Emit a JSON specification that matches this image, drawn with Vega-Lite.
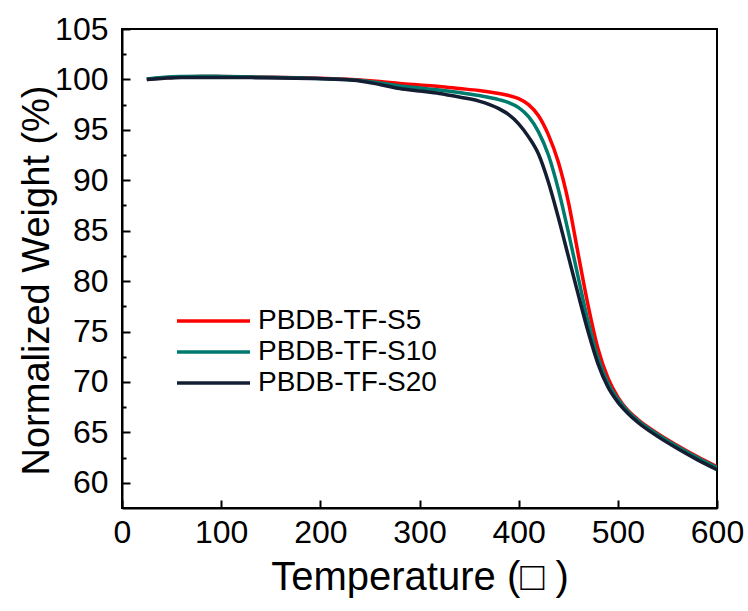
{
  "$schema": "https://vega.github.io/schema/vega-lite/v6.json",
  "autosize": {"type": "none"},
  "padding": {"left": 122, "top": 29, "right": 31, "bottom": 103},
  "width": 595,
  "height": 479,
  "background": "white",
  "config": {
    "view": {"stroke": "black", "strokeWidth": 2},
    "font": "Liberation Sans"
  },
  "data": {"values": [
    {"s":"PBDB-TF-S5","t":25,"w":100.0},{"s":"PBDB-TF-S5","t":40,"w":100.15},{"s":"PBDB-TF-S5","t":60,"w":100.25},{"s":"PBDB-TF-S5","t":80,"w":100.3},{"s":"PBDB-TF-S5","t":100,"w":100.28},{"s":"PBDB-TF-S5","t":130,"w":100.25},{"s":"PBDB-TF-S5","t":160,"w":100.2},{"s":"PBDB-TF-S5","t":190,"w":100.15},{"s":"PBDB-TF-S5","t":220,"w":100.05},{"s":"PBDB-TF-S5","t":240,"w":99.95},
    {"s":"PBDB-TF-S5","t":260,"w":99.8},{"s":"PBDB-TF-S5","t":280,"w":99.6},{"s":"PBDB-TF-S5","t":300,"w":99.45},{"s":"PBDB-TF-S5","t":320,"w":99.3},{"s":"PBDB-TF-S5","t":340,"w":99.1},{"s":"PBDB-TF-S5","t":360,"w":98.9},{"s":"PBDB-TF-S5","t":380,"w":98.6},{"s":"PBDB-TF-S5","t":390,"w":98.4},{"s":"PBDB-TF-S5","t":400,"w":98.1},{"s":"PBDB-TF-S5","t":410,"w":97.5},{"s":"PBDB-TF-S5","t":420,"w":96.4},{"s":"PBDB-TF-S5","t":430,"w":94.5},{"s":"PBDB-TF-S5","t":440,"w":91.8},{"s":"PBDB-TF-S5","t":450,"w":87.9},{"s":"PBDB-TF-S5","t":460,"w":82.7},{"s":"PBDB-TF-S5","t":470,"w":77.6},{"s":"PBDB-TF-S5","t":480,"w":73.3},{"s":"PBDB-TF-S5","t":490,"w":70.4},{"s":"PBDB-TF-S5","t":500,"w":68.5},{"s":"PBDB-TF-S5","t":510,"w":67.2},{"s":"PBDB-TF-S5","t":520,"w":66.3},{"s":"PBDB-TF-S5","t":540,"w":64.9},{"s":"PBDB-TF-S5","t":560,"w":63.7},{"s":"PBDB-TF-S5","t":580,"w":62.6},{"s":"PBDB-TF-S5","t":600,"w":61.6},
    {"s":"PBDB-TF-S10","t":25,"w":100.05},{"s":"PBDB-TF-S10","t":40,"w":100.2},{"s":"PBDB-TF-S10","t":60,"w":100.3},{"s":"PBDB-TF-S10","t":80,"w":100.32},{"s":"PBDB-TF-S10","t":100,"w":100.3},{"s":"PBDB-TF-S10","t":130,"w":100.25},{"s":"PBDB-TF-S10","t":160,"w":100.2},{"s":"PBDB-TF-S10","t":190,"w":100.12},{"s":"PBDB-TF-S10","t":220,"w":100.02},{"s":"PBDB-TF-S10","t":240,"w":99.9},
    {"s":"PBDB-TF-S10","t":260,"w":99.65},{"s":"PBDB-TF-S10","t":280,"w":99.35},{"s":"PBDB-TF-S10","t":300,"w":99.15},{"s":"PBDB-TF-S10","t":320,"w":98.95},{"s":"PBDB-TF-S10","t":340,"w":98.7},{"s":"PBDB-TF-S10","t":360,"w":98.4},{"s":"PBDB-TF-S10","t":380,"w":98.0},{"s":"PBDB-TF-S10","t":390,"w":97.7},{"s":"PBDB-TF-S10","t":400,"w":97.2},{"s":"PBDB-TF-S10","t":410,"w":96.3},{"s":"PBDB-TF-S10","t":420,"w":94.8},{"s":"PBDB-TF-S10","t":430,"w":92.5},{"s":"PBDB-TF-S10","t":440,"w":89.1},{"s":"PBDB-TF-S10","t":450,"w":84.9},{"s":"PBDB-TF-S10","t":460,"w":80.4},{"s":"PBDB-TF-S10","t":470,"w":76.0},{"s":"PBDB-TF-S10","t":480,"w":72.4},{"s":"PBDB-TF-S10","t":490,"w":69.9},{"s":"PBDB-TF-S10","t":500,"w":68.3},{"s":"PBDB-TF-S10","t":510,"w":67.1},{"s":"PBDB-TF-S10","t":520,"w":66.2},{"s":"PBDB-TF-S10","t":540,"w":64.8},{"s":"PBDB-TF-S10","t":560,"w":63.6},{"s":"PBDB-TF-S10","t":580,"w":62.5},{"s":"PBDB-TF-S10","t":600,"w":61.5},
    {"s":"PBDB-TF-S20","t":25,"w":100.0},{"s":"PBDB-TF-S20","t":40,"w":100.1},{"s":"PBDB-TF-S20","t":60,"w":100.2},{"s":"PBDB-TF-S20","t":80,"w":100.2},{"s":"PBDB-TF-S20","t":100,"w":100.2},{"s":"PBDB-TF-S20","t":130,"w":100.18},{"s":"PBDB-TF-S20","t":160,"w":100.15},{"s":"PBDB-TF-S20","t":190,"w":100.1},{"s":"PBDB-TF-S20","t":220,"w":100.0},{"s":"PBDB-TF-S20","t":240,"w":99.85},
    {"s":"PBDB-TF-S20","t":260,"w":99.5},{"s":"PBDB-TF-S20","t":280,"w":99.1},{"s":"PBDB-TF-S20","t":300,"w":98.85},{"s":"PBDB-TF-S20","t":320,"w":98.6},{"s":"PBDB-TF-S20","t":340,"w":98.25},{"s":"PBDB-TF-S20","t":360,"w":97.85},{"s":"PBDB-TF-S20","t":380,"w":97.1},{"s":"PBDB-TF-S20","t":390,"w":96.5},{"s":"PBDB-TF-S20","t":400,"w":95.6},{"s":"PBDB-TF-S20","t":410,"w":94.3},{"s":"PBDB-TF-S20","t":420,"w":92.6},{"s":"PBDB-TF-S20","t":430,"w":89.8},{"s":"PBDB-TF-S20","t":440,"w":86.3},{"s":"PBDB-TF-S20","t":450,"w":82.5},{"s":"PBDB-TF-S20","t":460,"w":78.7},{"s":"PBDB-TF-S20","t":470,"w":75.0},{"s":"PBDB-TF-S20","t":480,"w":71.8},{"s":"PBDB-TF-S20","t":490,"w":69.5},{"s":"PBDB-TF-S20","t":500,"w":68.0},{"s":"PBDB-TF-S20","t":510,"w":66.9},{"s":"PBDB-TF-S20","t":520,"w":66.0},{"s":"PBDB-TF-S20","t":540,"w":64.6},{"s":"PBDB-TF-S20","t":560,"w":63.4},{"s":"PBDB-TF-S20","t":580,"w":62.3},{"s":"PBDB-TF-S20","t":600,"w":61.3}
  ]},
  "mark": {"type": "line", "strokeWidth": 3.5, "interpolate": "monotone", "clip": true},
  "encoding": {
    "x": {
      "field": "t", "type": "quantitative",
      "scale": {"domain": [0, 600], "nice": false},
      "axis": {
        "values": [0, 100, 200, 300, 400, 500, 600],
        "title": "Temperature (□ )",
        "titleFontSize": 40, "titleFontWeight": "normal", "titleColor": "black",
        "titleBaseline": "alphabetic", "titleY": 81,
        "labelFontSize": 32, "labelColor": "black", "labelPadding": 17,
        "tickSize": -8, "tickWidth": 2, "tickColor": "black",
        "domainColor": "black", "domainWidth": 2,
        "grid": false, "labelFlush": false
      }
    },
    "y": {
      "field": "w", "type": "quantitative",
      "scale": {"domain": [57.5, 105], "nice": false, "zero": false},
      "axis": {
        "values": [60, 62.5, 65, 67.5, 70, 72.5, 75, 77.5, 80, 82.5, 85, 87.5, 90, 92.5, 95, 97.5, 100, 102.5, 105],
        "labelExpr": "datum.value % 5 === 0 ? datum.label : ''",
        "title": "Normalized Weight (%)",
        "titleFontSize": 38, "titleFontWeight": "normal", "titleColor": "black",
        "titleAngle": -90, "titleBaseline": "alphabetic", "titleX": -74, "titleY": 251,
        "labelFontSize": 32, "labelColor": "black", "labelPadding": 22,
        "tickSize": {"condition": {"test": "datum.value % 5 === 0", "value": -8}, "value": -4},
        "tickWidth": 2, "tickColor": "black",
        "domainColor": "black", "domainWidth": 2,
        "grid": false, "labelFlush": false
      }
    },
    "color": {
      "field": "s", "type": "nominal",
      "scale": {"domain": ["PBDB-TF-S5", "PBDB-TF-S10", "PBDB-TF-S20"], "range": ["#FF0000", "#007A6E", "#141E32"]},
      "legend": {
        "title": null, "orient": "none", "legendX": 53, "legendY": 277,
        "symbolType": "stroke", "symbolSize": 5329, "symbolStrokeWidth": 3.5,
        "clipHeight": 30, "rowPadding": 1,
        "labelFontSize": 28, "labelColor": "black", "labelOffset": 6,
        "labelLimit": 400
      }
    },
    "order": {"field": "t", "type": "quantitative"}
  }
}
